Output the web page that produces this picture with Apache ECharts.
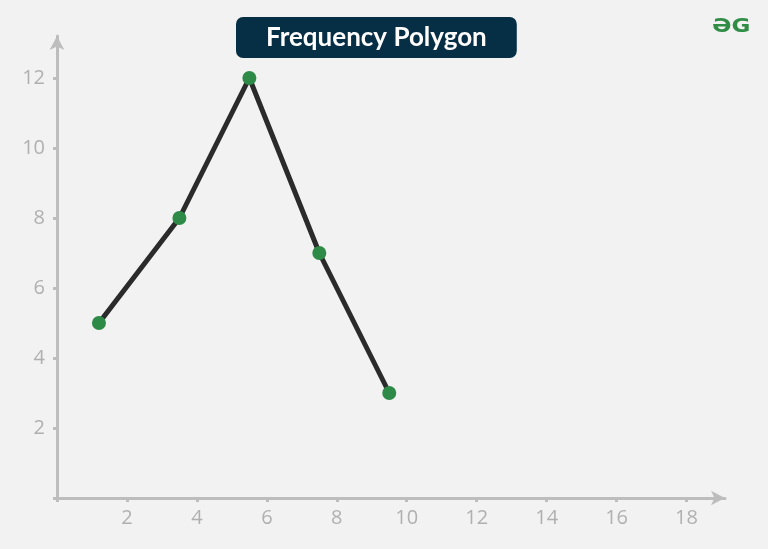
<!DOCTYPE html>
<html>
<head>
<meta charset="utf-8">
<script src="https://cdn.jsdelivr.net/npm/echarts@6/dist/echarts.min.js"></script>
<style>
  html, body { margin: 0; padding: 0; background: #f2f2f2; }
  #chart { width: 768px; height: 549px; }
</style>
</head>
<body>
<div id="chart"></div>
<script>
// data
const xValues = [1.2, 3.5, 5.5, 7.5, 9.5];
const frequency = [5, 8, 12, 7, 3];
const xTicks = [0, 2, 4, 6, 8, 10, 12, 14, 16, 18];
const xLabels = [2, 4, 6, 8, 10, 12, 14, 16, 18];
const yTicks = [0, 2, 4, 6, 8, 10, 12];
const yLabels = [2, 4, 6, 8, 10, 12];

const axisColor = "#bdbdbd";
const labelColor = "#b0b0b0";
const points = xValues.map((x, i) => [x, frequency[i]]);

const myChart = echarts.init(document.getElementById("chart"));

// inside=true gives the upper half of the crossing ticks, no line or labels
function xAxisDef(inside) {
  return {
    type: "value",
    min: 0,
    max: 19.1,
    axisLine: inside ? { show: false } : {
      show: true,
      symbol: ["none", "arrow"],
      symbolSize: [11, 14],
      lineStyle: { color: axisColor, width: 3 }
    },
    axisTick: {
      show: true,
      inside: inside,
      length: 4,
      customValues: xTicks,
      lineStyle: { color: axisColor, width: 3 }
    },
    axisLabel: {
      show: !inside,
      customValues: xLabels,
      color: labelColor,
      fontSize: 20,
      fontFamily: "Open Sans",
      margin: 10
    },
    splitLine: { show: false }
  };
}

function yAxisDef(inside) {
  return {
    type: "value",
    min: 0,
    max: 13.2,
    axisLine: inside ? { show: false } : {
      show: true,
      symbol: ["none", "arrow"],
      symbolSize: [11, 14],
      lineStyle: { color: axisColor, width: 3 }
    },
    axisTick: {
      show: true,
      inside: inside,
      length: 4,
      customValues: yTicks,
      lineStyle: { color: axisColor, width: 3 }
    },
    axisLabel: {
      show: !inside,
      customValues: yLabels,
      color: labelColor,
      fontSize: 20,
      fontFamily: "Open Sans",
      margin: 12
    },
    splitLine: { show: false }
  };
}

let option = {
  backgroundColor: "#f2f2f2",
  animation: false,
  title: {
    text: "Frequency Polygon",
    left: 236,
    top: 17,
    backgroundColor: "#062e44",
    borderRadius: 7,
    padding: [7, 30, 7, 30],
    textStyle: {
      color: "#ffffff",
      fontSize: 26,
      fontWeight: "bold",
      fontFamily: "Lato",
      lineHeight: 27
    }
  },
  grid: {
    left: 57,
    right: 43,
    top: 36,
    bottom: 51
  },
  xAxis: [xAxisDef(false), xAxisDef(true)],
  yAxis: [yAxisDef(false), yAxisDef(true)],
  graphic: [
    {
      type: "text",
      left: 712,
      top: 17,
      scaleY: 0.85,
      style: {
        text: "ƏG",
        fill: "#2f8d46",
        font: "bold 23px 'DejaVu Sans'"
      }
    }
  ],
  series: [
    {
      type: "line",
      xAxisIndex: 0,
      yAxisIndex: 0,
      data: points,
      symbol: "circle",
      symbolSize: 14,
      lineStyle: { color: "#2b2b2b", width: 5 },
      itemStyle: { color: "#2e8b47" },
      z: 3
    }
  ]
};
myChart.setOption(option);
</script>
</body>
</html>
